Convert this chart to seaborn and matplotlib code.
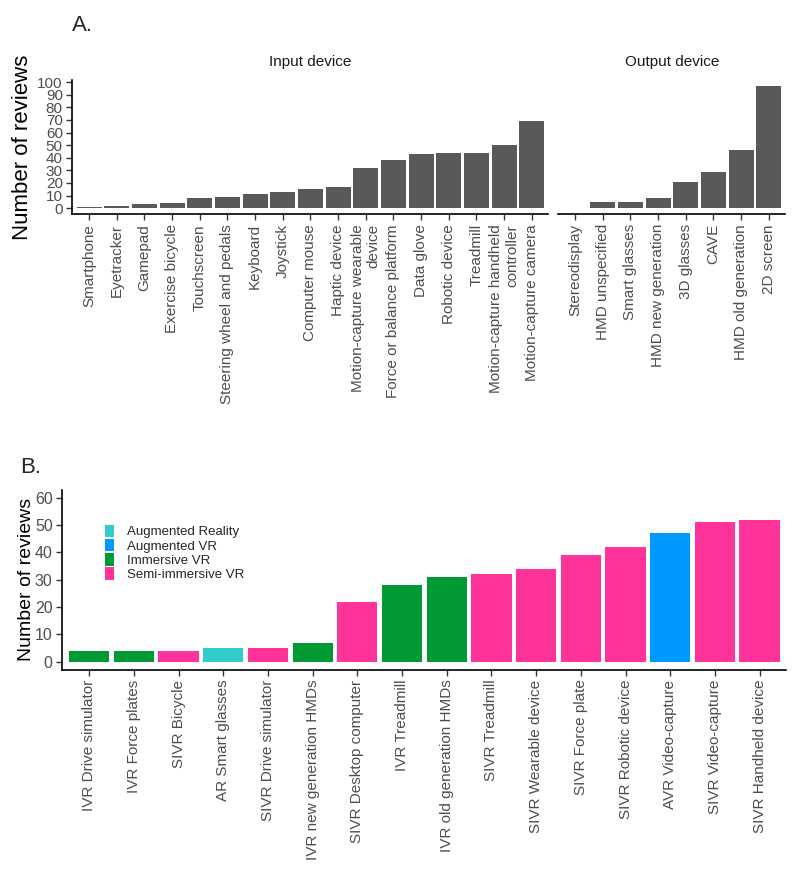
import numpy as np
import pandas as pd
import matplotlib
matplotlib.use("Agg")
import matplotlib.pyplot as plt
import seaborn as sns
from matplotlib.patches import Patch


# -----------------------------
# DATA
# -----------------------------
input_devices = [
    "Smartphone", "Eyetracker", "Gamepad", "Exercise bicycle", "Touchscreen",
    "Steering wheel and pedals", "Keyboard", "Joystick", "Computer mouse",
    "Haptic device", "Motion-capture wearable\ndevice", "Force or balance platform",
    "Data glove", "Robotic device", "Treadmill",
    "Motion-capture handheld\ncontroller", "Motion-capture camera",
]
input_counts = [1, 2, 3, 4, 8, 9, 11, 13, 15, 17, 32, 38, 43, 44, 44, 50, 69]

output_devices = [
    "Stereodisplay", "HMD unspecified", "Smart glasses", "HMD new generation",
    "3D glasses", "CAVE", "HMD old generation", "2D screen",
]
output_counts = [0, 5, 5, 8, 21, 29, 46, 97]

combo_labels = [
    "IVR Drive simulator", "IVR Force plates", "SIVR Bicycle", "AR Smart glasses",
    "SIVR Drive simulator", "IVR new generation HMDs", "SIVR Desktop computer",
    "IVR Treadmill", "IVR old generation HMDs", "SIVR Treadmill",
    "SIVR Wearable device", "SIVR Force plate", "SIVR Robotic device",
    "AVR Video-capture", "SIVR Video-capture", "SIVR Handheld device",
]
combo_counts = [4, 4, 4, 5, 5, 7, 22, 28, 31, 32, 34, 39, 42, 47, 51, 52]
combo_types = [
    "Immersive VR", "Immersive VR", "Semi-immersive VR", "Augmented Reality",
    "Semi-immersive VR", "Immersive VR", "Semi-immersive VR", "Immersive VR",
    "Immersive VR", "Semi-immersive VR", "Semi-immersive VR", "Semi-immersive VR",
    "Semi-immersive VR", "Augmented VR", "Semi-immersive VR", "Semi-immersive VR",
]

type_order = ["Augmented Reality", "Augmented VR", "Immersive VR", "Semi-immersive VR"]
type_colors = ["#33CCCC", "#0099FF", "#009933", "#FF3399"]

df_in = pd.DataFrame({"device": input_devices, "n": input_counts})
df_out = pd.DataFrame({"device": output_devices, "n": output_counts})
df_b = pd.DataFrame({"label": combo_labels, "n": combo_counts, "type": combo_types})

# -----------------------------
# STYLE
# -----------------------------
sns.set_theme(style="ticks")
plt.rcParams["font.family"] = ["Liberation Sans", "DejaVu Sans"]
plt.rcParams["axes.linewidth"] = 1.2

BAR_GREY = "#595959"
TICK_TXT = "#4D4D4D"


def style_axis(ax):
    sns.despine(ax=ax)
    ax.tick_params(axis="both", length=4, width=1, color="#333333",
                   labelcolor=TICK_TXT, labelsize=11, pad=3)
    for s in ax.spines.values():
        s.set_color("black")
    ax.set_xlabel("")
    ax.set_ylabel("")


def rotate_labels(ax):
    for lab in ax.get_xticklabels():
        lab.set_rotation(90)
        lab.set_ha("center")
        lab.set_va("top")
        lab.set_multialignment("right")


fig = plt.figure(figsize=(8, 8.76), dpi=100)

# -----------------------------
# PANEL A
# -----------------------------
ax_in = fig.add_axes([0.0906, 0.7553, 0.5948, 0.1537])
ax_out = fig.add_axes([0.698, 0.7553, 0.2838, 0.1537])

sns.barplot(data=df_in, x="device", y="n", color=BAR_GREY, saturation=1,
            width=0.9, linewidth=0, ax=ax_in)
sns.barplot(data=df_out, x="device", y="n", color=BAR_GREY, saturation=1,
            width=0.9, linewidth=0, ax=ax_out)

for ax, n in [(ax_in, len(input_devices)), (ax_out, len(output_devices))]:
    style_axis(ax)
    ax.set_xlim(-0.6, n - 0.4)
    ax.set_ylim(-4.85, 101.85)
    ax.set_yticks(np.arange(0, 101, 10))
    rotate_labels(ax)

ax_out.spines["left"].set_visible(False)
ax_out.tick_params(axis="y", left=False, labelleft=False)

ax_in.set_ylabel("Number of reviews", fontsize=16, color="black", labelpad=3)
ax_in.set_title("Input device", fontsize=11, color="#1A1A1A", pad=10)
ax_out.set_title("Output device", fontsize=11, color="#1A1A1A", pad=10)

fig.text(0.09, 0.971, "A.", fontsize=16, ha="left", va="center")

# -----------------------------
# PANEL B
# -----------------------------
ax_b = fig.add_axes([0.078, 0.2353, 0.905, 0.2059])
sns.barplot(data=df_b, x="label", y="n", hue="type", hue_order=type_order,
            palette=dict(zip(type_order, type_colors)), dodge=False,
            saturation=1, width=0.9, linewidth=0, order=combo_labels, ax=ax_b)
style_axis(ax_b)
ax_b.set_xlim(-0.6, len(combo_labels) - 0.4)
ax_b.set_ylim(-3, 63)
ax_b.set_yticks(np.arange(0, 61, 10))
ax_b.tick_params(axis="y", labelsize=11.5)
rotate_labels(ax_b)
ax_b.set_ylabel("Number of reviews", fontsize=14, color="black", labelpad=0)

handles = [Patch(facecolor=c, edgecolor="none") for c in type_colors]
ax_b.legend(handles, type_order, loc="upper left", bbox_to_anchor=(0.051, 0.835),
            frameon=False, fontsize=9.5, handlelength=0.75, handleheight=1.1,
            labelspacing=0.03, handletextpad=0.95, borderaxespad=0)

fig.text(0.025, 0.466, "B.", fontsize=16, ha="left", va="center")

fig.savefig("out.png", dpi=100)
